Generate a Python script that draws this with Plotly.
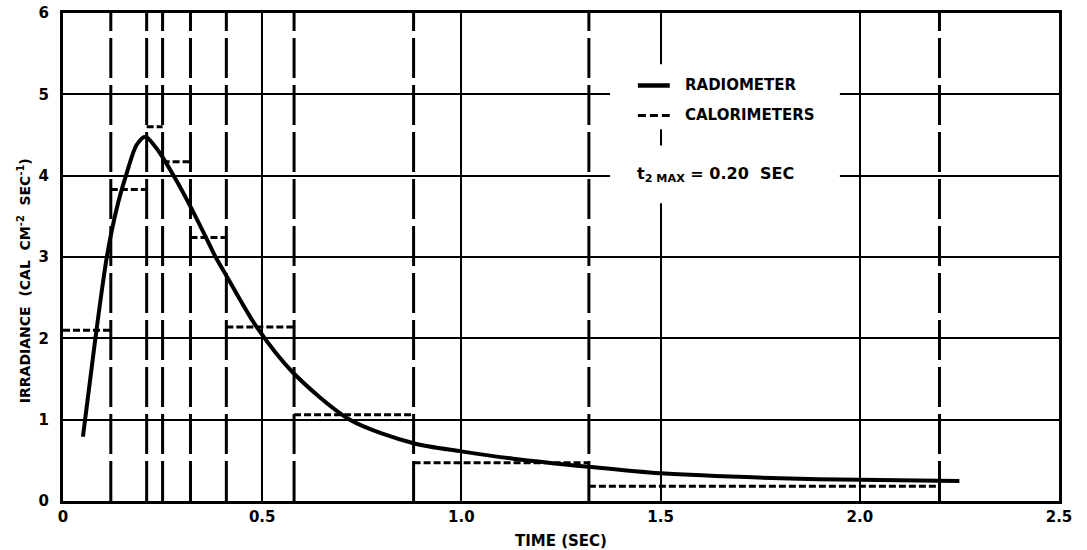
import plotly.graph_objects as go

# ---- data ----
radiometer_time = [0.05, 0.08, 0.11, 0.135, 0.158, 0.185, 0.207, 0.24, 0.28, 0.32,
                   0.361, 0.383, 0.409, 0.486, 0.577, 0.72, 0.88, 1.0,
                   1.13, 1.32, 1.5, 1.8, 2.0, 2.25]
radiometer_irr = [0.79, 1.95, 3.0, 3.6, 4.0, 4.38, 4.48, 4.3, 3.98, 3.62,
                  3.22, 3.0, 2.78, 2.14, 1.58, 1.0, 0.71, 0.61,
                  0.52, 0.42, 0.34, 0.28, 0.26, 0.245]

calorimeter_bounds = [0.0, 0.12, 0.21, 0.25, 0.32, 0.41, 0.58, 0.88, 1.32, 2.20]
calorimeter_irr = [2.1, 3.83, 4.6, 4.17, 3.24, 2.14, 1.06, 0.47, 0.18]

x_ticks = [0, 0.5, 1.0, 1.5, 2.0, 2.5]
x_tick_labels = ["0", "0.5", "1.0", "1.5", "2.0", "2.5"]
y_ticks = [0, 1, 2, 3, 4, 5, 6]
y_tick_labels = ["0", "1", "2", "3", "4", "5", "6"]

FONT = "DejaVu Sans"
NB = "\u00a0"

# step line built from the calorimeter intervals
cal_x, cal_y = [], []
for i, v in enumerate(calorimeter_irr):
    cal_x += [calorimeter_bounds[i], calorimeter_bounds[i + 1], None]
    cal_y += [v, v, None]

# vertical interval boundaries
bx, by = [], []
for b in calorimeter_bounds[1:]:
    bx += [b, b, None]
    by += [0, 6, None]

fig = go.Figure()
fig.add_trace(go.Scatter(x=bx, y=by, mode="lines", showlegend=False, hoverinfo="skip",
                         line=dict(color="black", width=3, dash="40px,7px")))
fig.add_trace(go.Scatter(x=cal_x, y=cal_y, mode="lines", name="CALORIMETERS", showlegend=False,
                         line=dict(color="black", width=3, dash="7px,3px")))
fig.add_trace(go.Scatter(x=radiometer_time, y=radiometer_irr, mode="lines", name="RADIOMETER",
                         showlegend=False,
                         line=dict(color="black", width=4, shape="spline", smoothing=0.8)))

# white masks behind the legend text (hide gridlines only)
for y0, y1 in [(4.57, 5.37), (3.66, 4.37)]:
    fig.add_shape(type="rect", xref="x", yref="y", x0=1.373, x1=1.95, y0=y0, y1=y1,
                  fillcolor="white", line=dict(width=0), layer="between")

# manual legend
fig.add_shape(type="line", xref="x", yref="y", x0=1.443, x1=1.523, y0=5.11, y1=5.11,
              line=dict(color="black", width=4.5))
fig.add_shape(type="line", xref="x", yref="y", x0=1.443, x1=1.523, y0=4.74, y1=4.74,
              line=dict(color="black", width=3, dash="8px,4px"))
lbl_font = dict(family=FONT, size=15, color="black", weight="bold")
fig.add_annotation(x=1.556, y=5.11, xref="x", yref="y", text="RADIOMETER", showarrow=False,
                   xanchor="left", yanchor="middle", font=lbl_font)
fig.add_annotation(x=1.556, y=4.74, xref="x", yref="y", text="CALORIMETERS", showarrow=False,
                   xanchor="left", yanchor="middle", font=lbl_font)
fig.add_annotation(x=1.436, y=4.02, xref="x", yref="y",
                   text="t<sub>2 MAX</sub>" + NB + "=" + NB + "0.20" + NB + NB + "SEC", showarrow=False,
                   xanchor="left", yanchor="middle",
                   font=dict(family=FONT, size=16, color="black", weight="bold"))

# y-axis title
fig.add_annotation(x=-0.039, y=(501 - 281) / 488, xref="paper", yref="paper",
                   text="IRRADIANCE" + NB * 2 + "(CAL" + NB * 2 + "CM<sup>-2</sup>" + NB * 2
                        + "SEC<sup>-1</sup>)",
                   textangle=-90, showarrow=False, xanchor="center", yanchor="middle",
                   font=dict(family=FONT, size=14, color="black", weight="bold"))

fig.update_layout(
    width=1087, height=550,
    margin=dict(l=63, r=28, t=13, b=49),
    paper_bgcolor="white", plot_bgcolor="white",
    showlegend=False,
    font=dict(family=FONT, size=14, color="black"),
    xaxis=dict(range=[0, 2.5], tickvals=x_ticks, ticktext=x_tick_labels,
               showgrid=True, gridcolor="black", gridwidth=1.5, zeroline=False,
               showline=True, linecolor="black", linewidth=3, mirror=True,
               ticks="", automargin=False, ticklabeloverflow="allow",
               tickfont=dict(family=FONT, size=15, color="black", weight="bold"),
               title=dict(text="TIME" + NB + "(SEC)", standoff=16,
                          font=dict(family=FONT, size=15, color="black", weight="bold"))),
    yaxis=dict(range=[0, 6], tickvals=y_ticks, ticktext=y_tick_labels,
               showgrid=True, gridcolor="black", gridwidth=2, zeroline=False,
               showline=True, linecolor="black", linewidth=3, mirror=True,
               ticks="", ticklabelstandoff=8, automargin=False, ticklabeloverflow="allow",
               tickfont=dict(family=FONT, size=15, color="black", weight="bold")),
)

# remove the page's default body margin so the figure fills the window exactly
fig.write_html("out.html", config={"displayModeBar": False},
               post_script="document.body.style.margin='0';document.body.style.overflow='hidden';")
